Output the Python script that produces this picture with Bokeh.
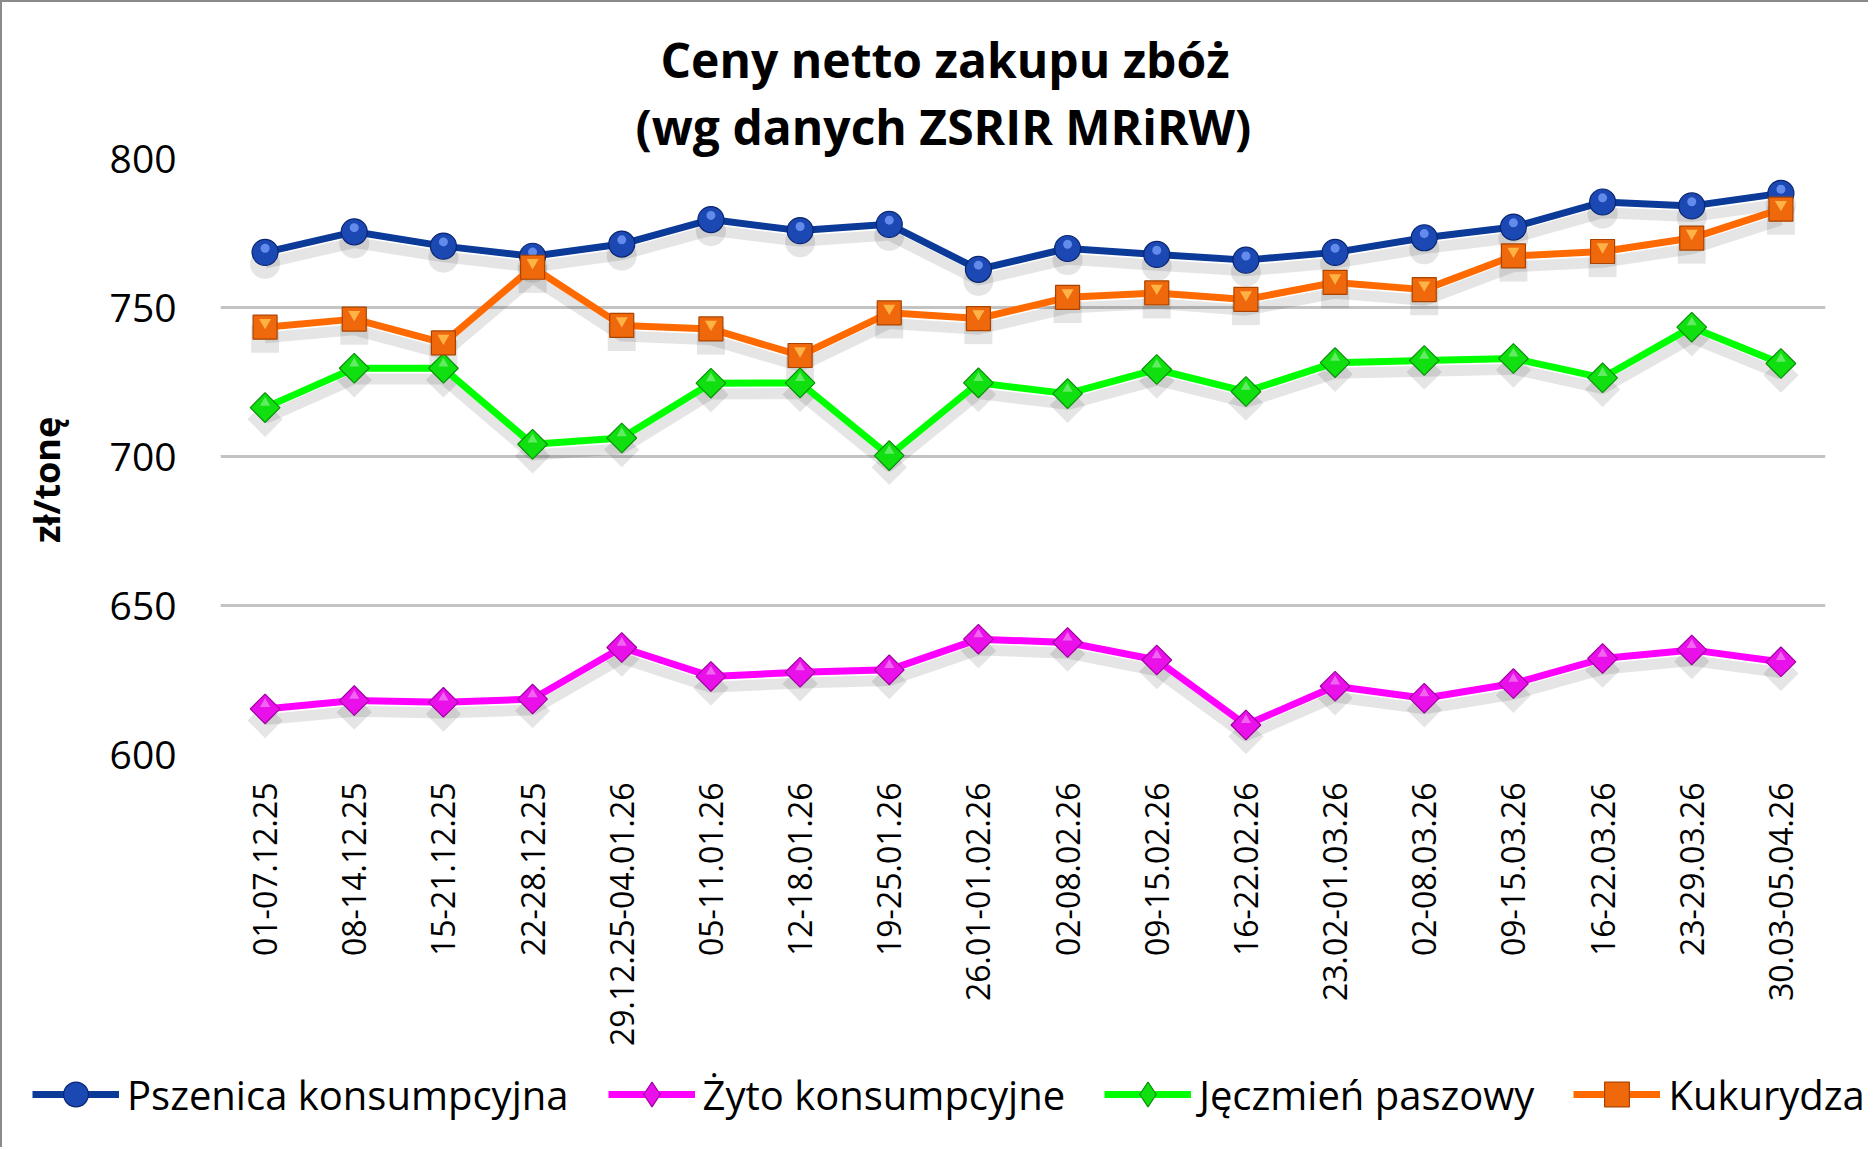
import math
from bokeh.plotting import figure
from bokeh.layouts import column
from bokeh.models import ColumnDataSource, FactorRange, Range1d, FixedTicker, Legend, LegendItem, Title
from bokeh.transform import dodge
from bokeh.embed import file_html
from bokeh.resources import INLINE

weeks = ["01-07.12.25", "08-14.12.25", "15-21.12.25", "22-28.12.25", "29.12.25-04.01.26",
         "05-11.01.26", "12-18.01.26", "19-25.01.26", "26.01-01.02.26", "02-08.02.26",
         "09-15.02.26", "16-22.02.26", "23.02-01.03.26", "02-08.03.26", "09-15.03.26",
         "16-22.03.26", "23-29.03.26", "30.03-05.04.26"]

pszenica = [768.5, 775.4, 770.6, 767.2, 771.3, 779.5, 775.8, 777.9, 762.8, 769.8,
            767.8, 765.9, 768.5, 773.4, 777.0, 785.4, 784.1, 788.3]
zyto = [615.3, 618.1, 617.5, 618.6, 635.9, 626.2, 627.6, 628.4, 638.7, 637.6,
        631.7, 609.9, 622.9, 618.9, 623.8, 632.2, 635.1, 631.1]
jeczmien = [716.4, 729.6, 729.6, 704.1, 706.2, 724.6, 724.7, 700.3, 724.7, 721.1,
            729.2, 721.8, 731.5, 732.2, 732.9, 726.4, 743.4, 731.2]
kukurydza = [743.4, 746.1, 738.1, 763.5, 744.0, 742.8, 733.9, 748.2, 746.3, 753.4,
             754.9, 752.7, 758.4, 756.0, 767.3, 768.8, 773.3, 783.0]

series_names = ["Pszenica konsumpcyjna", "Żyto konsumpcyjne", "Jęczmień paszowy", "Kukurydza"]
y_ticks = [600, 650, 700, 750, 800]
title_lines = ["Ceny netto zakupu zbóż", "(wg danych ZSRIR MRiRW)"]
y_label = "zł/tonę"

src = ColumnDataSource(dict(week=weeks, psz=pszenica, zyto=zyto, jecz=jeczmien, kuk=kukurydza))

fields = ["psz", "zyto", "jecz", "kuk"]
line_colors = ["#0b3a98", "#ff00ff", "#00ff00", "#ff6a00"]
markers = ["circle", "square", "square", "square"]
legend_markers = ["circle", "diamond", "diamond", "square"]
angles = [0, math.pi / 4, math.pi / 4, 0]
sizes = [26, 21, 21, 24]
fills = ["#1c48b4", "#ea10ea", "#10e010", "#f0680c"]
edges = ["#0a2670", "#a000a0", "#089008", "#a94400"]

# ---------------- main chart ----------------
p = figure(width=1868, height=1047, title=None,
           x_range=FactorRange(factors=weeks, range_padding=0),
           y_range=Range1d(600, 800),
           output_backend="svg", toolbar_location=None,
           min_border_left=218, min_border_right=45, min_border_top=156, min_border_bottom=295)
p.frame_align = False
p.styles = {"border-top": "2px solid #8a8a8a", "border-left": "2px solid #8a8a8a"}
p.outline_line_color = None
p.background_fill_color = "white"
p.border_fill_color = "white"

t2 = Title(text=title_lines[1], align="left", offset=415, standoff=0, text_line_height=0.9,
           text_font="Open Sans", text_font_style="bold", text_font_size="48px", text_color="black")
t1 = Title(text=title_lines[0], align="left", offset=440, standoff=0,
           text_font="Open Sans", text_font_style="bold", text_font_size="48px", text_color="black")
p.add_layout(t2, "above")
p.add_layout(t1, "above")

p.xgrid.grid_line_color = None
p.ygrid.grid_line_color = "#c3c3c3"
p.ygrid.grid_line_width = 3

p.yaxis.ticker = FixedTicker(ticks=y_ticks)
p.yaxis.axis_line_color = None
p.yaxis.major_tick_line_color = None
p.yaxis.minor_tick_line_color = None
p.yaxis.major_tick_out = 0
p.yaxis.major_tick_in = 0
p.yaxis.major_label_standoff = 44
p.yaxis.major_label_text_font = "Open Sans"
p.yaxis.major_label_text_font_size = "39px"
p.yaxis.major_label_text_color = "black"
p.yaxis.axis_label = y_label + "\u00a0" * 5
p.yaxis.axis_label_text_font = "Open Sans"
p.yaxis.axis_label_text_font_style = "bold"
p.yaxis.axis_label_text_font_size = "36px"
p.yaxis.axis_label_text_color = "black"
p.yaxis.axis_label_standoff = 36

p.xaxis.axis_line_color = None
p.xaxis.major_tick_line_color = None
p.xaxis.minor_tick_line_color = None
p.xaxis.major_tick_out = 0
p.xaxis.major_tick_in = 0
p.xaxis.major_label_orientation = math.pi / 2
p.xaxis.major_label_standoff = 28
p.xaxis.major_label_text_font = "Open Sans"
p.xaxis.major_label_text_font_size = "32px"
p.xaxis.major_label_text_color = "black"

for f, m, a, s in zip(fields, markers, angles, sizes):
    p.line("week", dodge(f, -3.6), source=src, line_width=11, line_color="black",
           line_alpha=0.10, line_join="round")
    p.scatter("week", dodge(f, -3.9), source=src, marker=m, angle=a, size=s + 4,
              fill_color="black", fill_alpha=0.10, line_color=None)

for i, f in enumerate(fields):
    p.line("week", f, source=src, line_width=7, line_color=line_colors[i], line_join="round")
    p.scatter("week", f, source=src, marker=markers[i], angle=angles[i], size=sizes[i],
              fill_color=fills[i], line_color=edges[i], line_width=1.2)
    if f == "psz":
        p.scatter("week", dodge(f, 1.4), source=src, marker="circle", size=9,
                  fill_color="#7aa2ff", fill_alpha=0.75, line_color=None)
    if f == "kuk":
        p.scatter("week", dodge(f, 1.6), source=src, marker="inverted_triangle", size=12,
                  fill_color="#ffb347", line_color=None)
    if f in ("zyto", "jecz"):
        p.scatter("week", dodge(f, 1.6), source=src, marker="triangle", size=10,
                  fill_color="white", fill_alpha=0.35, line_color=None)

# ---------------- legend strip ----------------
pl = figure(width=1868, height=100, title=None,
            x_range=FactorRange(factors=weeks, range_padding=0), y_range=Range1d(0, 1),
            x_axis_type=None, y_axis_type=None,
            output_backend="svg", toolbar_location=None,
            min_border_left=0, min_border_right=0, min_border_top=0, min_border_bottom=0)
pl.frame_align = False
pl.styles = {"border-left": "2px solid #8a8a8a"}
pl.outline_line_color = None
pl.xgrid.visible = False
pl.ygrid.visible = False

items = []
for i, f in enumerate(fields):
    ln = pl.line("week", f, source=src, line_width=7, line_color=line_colors[i])
    sc = pl.scatter("week", f, source=src, marker=legend_markers[i], size=sizes[i],
                    fill_color=fills[i], line_color=edges[i], line_width=1.2)
    items.append(LegendItem(label=series_names[i], renderers=[ln, sc]))

legend = Legend(items=items, orientation="horizontal", location=(30, 22),
                spacing=39, glyph_width=87, glyph_height=62, label_standoff=8,
                label_text_font="Open Sans", label_text_font_size="40px",
                label_text_color="black", padding=10, margin=0,
                border_line_color=None, background_fill_alpha=0)
pl.add_layout(legend)

layout = column(p, pl, spacing=0)
open("out.html", "w").write(file_html(layout, INLINE))
